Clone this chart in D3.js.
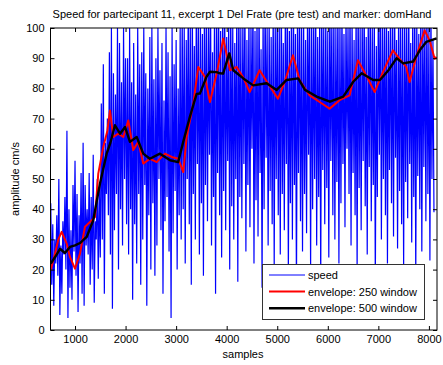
<!DOCTYPE html>
<html>
<head>
<meta charset="utf-8">
<script src="https://d3js.org/d3.v7.min.js"></script>
<style>
  body { margin: 0; background: #fff; }
  svg text { font-family: "Liberation Sans", Arial, sans-serif; font-size: 11px; fill: #000; }
</style>
</head>
<body>
<div id="chart"></div>
<script>
// speed signal: alternating peaks / troughs, one pair every 40 samples starting at 520
const speedStart = 520;
const speedStep = 20;
const speedPeaks = [
  42, 35, 30, 38, 50, 28, 36, 44, 66, 40, 33, 48, 56, 45, 38, 52, 62, 48, 40, 52, 44, 58, 36, 50, 47,
  75, 88, 62, 70, 92, 100, 85, 78, 100, 95, 82, 100, 90,
  90, 100, 82, 95, 78, 100, 88, 92, 100, 85, 80, 97, 100, 83, 90, 100, 86, 95, 76, 100, 92, 84, 100, 88, 96, 80, 100,
  105, 100, 96, 110, 102, 108, 94, 112, 100, 106,
  98, 110, 104, 100, 115, 92, 108, 103, 110, 99,
  106, 112, 97, 104, 110, 101, 95, 108, 113, 100,
  104, 110, 96, 107, 102, 111, 99, 105, 109, 93,
  106, 112, 100, 104, 97, 110, 103, 108, 101, 114,
  95, 106, 110, 99, 105, 112, 98, 104, 109, 100,
  107, 96, 111, 103, 108, 100, 113, 97, 105, 110,
  102, 106, 99, 112, 104, 108, 100, 110, 103, 107,
  98, 106, 101, 110, 104, 96, 108, 112, 100, 105,
  109, 97, 104, 111, 100, 106, 94, 108, 113, 102,
  105, 110, 99, 107, 103, 112, 96, 104, 109, 101,
  108, 100, 111, 95, 106, 110, 103, 98, 112, 105,
  104, 109, 100, 107, 96
];
const speedTroughs = [
  15, 8, 22, 18, 5, 12, 25, 20, 4, 14, 10, 26, 18, 6, 22, 12, 8, 28, 25, 15, 20, 9, 30, 17, 24,
  30, 12, 45, 38, 25, 7, 33, 45, 20, 40, 28, 50, 35,
  25, 40, 10, 35, 22, 45, 15, 30, 48, 8, 38, 20, 42, 18, 28, 50, 33, 12, 36, 44, 26, 4, 32, 46, 20, 38, 30,
  40, 22, 50, 35, 15, 45, 30, 55, 25, 42,
  18, 48, 36, 58, 28, 44, 12, 52, 38, 24,
  46, 33, 56, 20, 41, 30, 50, 16, 44, 37,
  55, 26, 48, 34, 60, 22, 43, 31, 52, 14,
  40, 57, 28, 46, 35, 20, 50, 38, 25, 45,
  33, 55, 18, 42, 30, 48, 12, 52, 36, 26,
  45, 32, 58, 20, 40, 50, 28, 44, 15, 53,
  35, 47, 24, 56, 38, 30, 49, 22, 42, 55,
  34, 60, 45, 28, 52, 38, 18, 47, 33, 56,
  41, 25, 54, 36, 48, 14, 44, 58, 30, 50,
  38, 22, 53, 42, 31, 57, 27, 46, 35, 20,
  49, 37, 55, 29, 44, 16, 51, 40, 26, 54,
  36, 45, 23, 50, 39
];

// envelope with 250 sample window
const redSamples = [520, 604, 670, 736, 835, 900, 999, 1098, 1197, 1329, 1395, 1460, 1559, 1640, 1692, 1757,
  1856, 1955, 2054, 2152, 2251, 2350, 2483, 2615, 2779, 2912, 3042, 3141, 3208, 3339, 3438, 3570, 3669,
  3802, 3932, 4065, 4197, 4322, 4454, 4652, 4816, 5014, 5146, 5311, 5443, 5641, 5838, 6036, 6234, 6431,
  6596, 6760, 6926, 7090, 7288, 7420, 7551, 7618, 7749, 7915, 8014, 8113, 8150];
const redValues = [19.8, 25.3, 30, 32.5, 28.6, 24.2, 20.3, 25.3, 34.2, 36.3, 37.4, 51.8, 60.6, 66, 72.7, 63.9,
  65, 63.9, 69.4, 59.6, 62.3, 55.1, 56.7, 55.6, 58.4, 57.3, 56.7, 52.3, 63.9, 74.9, 87.1, 83.8, 75.5,
  84.9, 96.5, 86, 87.1, 83.8, 78.8, 86, 81.6, 76.6, 82.1, 91, 82.7, 77.7, 75.5, 73.3, 76.1, 77.7,
  89.3, 84.3, 78.8, 85.4, 92.6, 89.8, 87.1, 82.1, 90.4, 99.2, 95.9, 89.8, 90.4];

// envelope with 500 sample window
const blackSamples = [520, 600, 703, 800, 900, 1000, 1098, 1230, 1360, 1494, 1626, 1700, 1790, 1890, 1990, 2087,
  2220, 2350, 2480, 2680, 2880, 3040, 3140, 3270, 3405, 3471, 3600, 3669, 3800, 3867, 3930, 4051, 4130,
  4328, 4525, 4790, 4988, 5186, 5415, 5548, 5779, 6042, 6305, 6503, 6669, 6898, 7031, 7200, 7361, 7492,
  7689, 7822, 7947, 8152];
const blackValues = [22, 24, 26.9, 25.5, 27.5, 28, 28.8, 30.8, 36.3, 48.5, 58.4, 62, 67.8, 65, 67.2, 62.3,
  63.9, 58.4, 56.7, 58.4, 56.2, 55.6, 62.3, 70.5, 78.2, 78.3, 83.8, 85.5, 85.4, 85, 84.9, 91.6, 86,
  83.3, 81, 81.7, 79.5, 82.8, 83.3, 79.5, 77.3, 75.6, 77.3, 82.2, 85, 82.8, 82.8, 86, 90, 88.3,
  88.9, 92.7, 95.4, 96.6];

const xTicks = [1000, 2000, 3000, 4000, 5000, 6000, 7000, 8000];
const yTicks = [0, 10, 20, 30, 40, 50, 60, 70, 80, 90, 100];
const legendLabels = ["speed", "envelope: 250 window", "envelope: 500 window"];

const W = 443, H = 365;
const plot = { left: 50.5, right: 437, top: 28, bottom: 330 };

const svg = d3.select("#chart").append("svg")
  .attr("width", W).attr("height", H);

const x = d3.scaleLinear().domain([515, 8160]).range([plot.left, plot.right]);
const y = d3.scaleLinear().domain([0, 100]).range([plot.bottom, plot.top]);

svg.append("defs").append("clipPath").attr("id", "clip")
  .append("rect")
  .attr("x", plot.left).attr("y", plot.top)
  .attr("width", plot.right - plot.left).attr("height", plot.bottom - plot.top);

// build speed series from peaks/troughs
const speed = [];
speedPeaks.forEach(function(p, i) {
  speed.push([speedStart + 2 * i * speedStep, p]);
  speed.push([speedStart + (2 * i + 1) * speedStep, speedTroughs[i]]);
});
const red = redSamples.map((s, i) => [s, redValues[i]]);
const black = blackSamples.map((s, i) => [s, blackValues[i]]);

const line = d3.line().x(d => x(d[0])).y(d => y(d[1]));

const marks = svg.append("g").attr("clip-path", "url(#clip)");
marks.append("path").datum(speed)
  .attr("d", line).attr("fill", "none").attr("stroke", "#0000ff").attr("stroke-width", 1.2);
marks.append("path").datum(red)
  .attr("d", line).attr("fill", "none").attr("stroke", "#ff0000").attr("stroke-width", 2)
  .attr("stroke-linejoin", "round");
marks.append("path").datum(black)
  .attr("d", line).attr("fill", "none").attr("stroke", "#000").attr("stroke-width", 2.4)
  .attr("stroke-linejoin", "round");

// axes, MATLAB style ticks pointing in
const axBottom = svg.append("g").attr("transform", `translate(0,${plot.bottom})`)
  .call(d3.axisBottom(x).tickValues(xTicks).tickSizeInner(-4).tickSizeOuter(0).tickPadding(5).tickFormat(d3.format("d")));
const axTop = svg.append("g").attr("transform", `translate(0,${plot.top})`)
  .call(d3.axisTop(x).tickValues(xTicks).tickSizeInner(-4).tickSizeOuter(0).tickFormat(""));
const axLeft = svg.append("g").attr("transform", `translate(${plot.left},0)`)
  .call(d3.axisLeft(y).tickValues(yTicks).tickSizeInner(-4).tickSizeOuter(0).tickPadding(6));
const axRight = svg.append("g").attr("transform", `translate(${plot.right},0)`)
  .call(d3.axisRight(y).tickValues(yTicks).tickSizeInner(-4).tickSizeOuter(0).tickFormat(""));

[axBottom, axTop, axLeft, axRight].forEach(function(a) {
  a.select(".domain").remove();
  a.selectAll("line").attr("stroke", "#000");
  a.selectAll("text").style("font-family", "'Liberation Sans', Arial, sans-serif").style("font-size", "11px").attr("fill", "#000");
});

svg.append("rect")
  .attr("x", plot.left).attr("y", plot.top)
  .attr("width", plot.right - plot.left).attr("height", plot.bottom - plot.top)
  .attr("fill", "none").attr("stroke", "#000").attr("stroke-width", 1);

// titles
svg.append("text")
  .attr("x", 242).attr("y", 18).attr("text-anchor", "middle")
  .text("Speed for partecipant 11, excerpt 1 Del Frate (pre test) and marker: domHand");
svg.append("text")
  .attr("x", 243).attr("y", 358).attr("text-anchor", "middle")
  .text("samples");
svg.append("text")
  .attr("transform", "translate(19,179) rotate(-90)").attr("text-anchor", "middle")
  .text("amplitude cm/s");

// legend
const legend = svg.append("g");
legend.append("rect")
  .attr("x", 262.5).attr("y", 264.5).attr("width", 162).attr("height", 55)
  .attr("fill", "#fff").attr("stroke", "#333").attr("stroke-width", 1);
const legendColors = ["#0000ff", "#ff0000", "#000"];
const legendWidths = [1, 2, 2.4];
legendLabels.forEach(function(label, i) {
  const ly = 275 + i * 16.6;
  legend.append("line")
    .attr("x1", 269).attr("x2", 305).attr("y1", ly).attr("y2", ly)
    .attr("stroke", legendColors[i]).attr("stroke-width", legendWidths[i]);
  legend.append("text")
    .attr("x", 308).attr("y", ly + 4)
    .text(label);
});
</script>
</body>
</html>
